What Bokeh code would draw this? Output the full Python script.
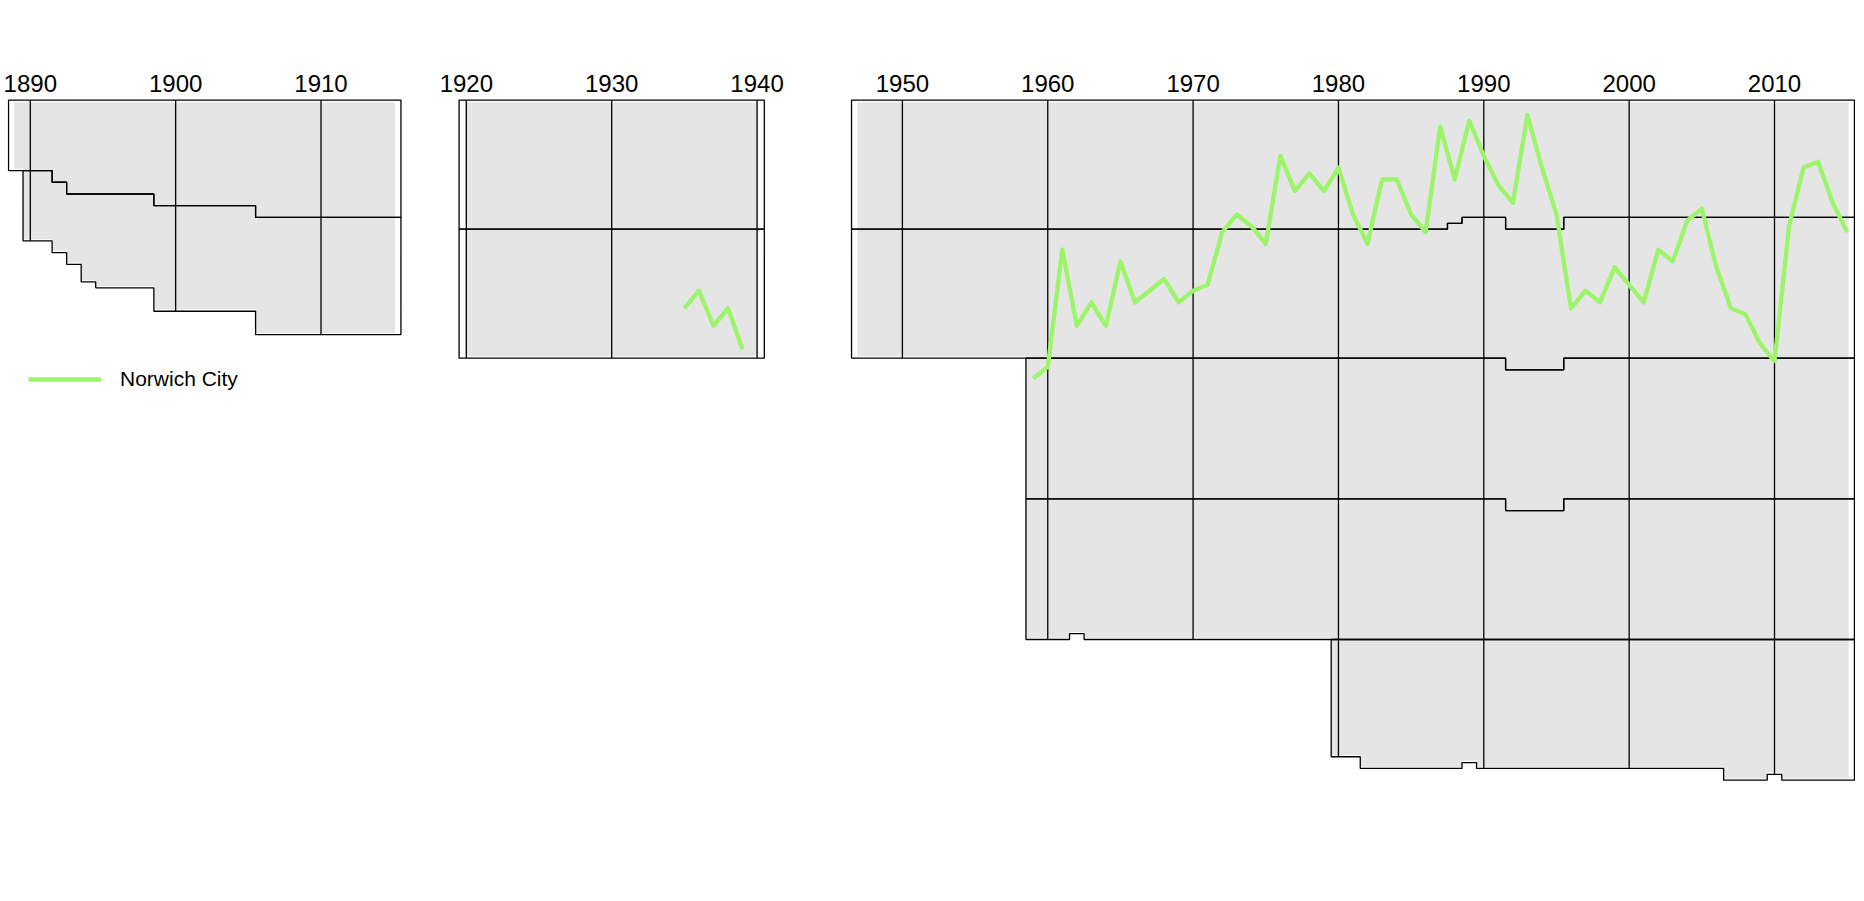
from bokeh.plotting import figure
from bokeh.models import Range1d, FixedTicker, Legend, LegendItem
from bokeh.embed import file_html
from bokeh.resources import INLINE

# ---------------- data ----------------
# Seasons are labelled by the year in which they ended.
# Number of clubs in each tier of the English league pyramid shown.
era1_seasons = list(range(1889, 1916))
era1_tier1 = [12, 12, 12, 14, 16, 16, 16, 16, 16, 16, 18, 18, 18, 18, 18, 18, 18,
              20, 20, 20, 20, 20, 20, 20, 20, 20, 20]
era1_tier2 = [0, 12, 12, 12, 12, 15, 16, 16, 16, 16, 18, 18, 18, 18, 18, 18, 18,
              20, 20, 20, 20, 20, 20, 20, 20, 20, 20]

era2_seasons = list(range(1920, 1941))
era2_tier1 = [22] * 21
era2_tier2 = [22] * 21

era3_seasons = list(range(1947, 2016))
era3_tier1 = [22] * 41 + [21] + [20] * 3 + [22] * 4 + [20] * 20
era3_tier2 = [22] * 41 + [23] + [24] * 3 + [24] * 4 + [24] * 20
era3_tier3 = [0] * 12 + [24] * 57
era3_tier4 = [0] * 12 + [24] * 3 + [23] + [24] * 29 + [22] * 4 + [24] * 20
era3_tier5 = [0] * 33 + [20] * 2 + [22] * 7 + [21] + [22] * 17 + [24] * 3 + [23] + [24] * 5

decade_ticks = [1890, 1900, 1910, 1920, 1930, 1940, 1950, 1960, 1970, 1980, 1990, 2000, 2010]

# Norwich City: overall league position (tiers stacked)
norwich_years = [1935, 1936, 1937, 1938, 1939,
                 1959, 1960, 1961, 1962, 1963, 1964, 1965, 1966, 1967, 1968, 1969,
                 1970, 1971, 1972, 1973, 1974, 1975, 1976, 1977, 1978, 1979,
                 1980, 1981, 1982, 1983, 1984, 1985, 1986, 1987, 1988, 1989,
                 1990, 1991, 1992, 1993, 1994, 1995, 1996, 1997, 1998, 1999,
                 2000, 2001, 2002, 2003, 2004, 2005, 2006, 2007, 2008, 2009,
                 2010, 2011, 2012, 2013, 2014, 2015]
norwich_pos = [36, 33, 39, 36, 43,
               48, 46, 26, 39, 35, 39, 28, 35, 33, 31, 35,
               33, 32, 23, 20, 22, 25, 10, 16, 13, 16,
               12, 20, 25, 14, 14, 20, 23, 5, 14, 4,
               10, 15, 18, 3, 12, 20, 36, 33, 35, 29,
               32, 35, 26, 28, 21, 19, 29, 36, 37, 42,
               45, 22, 12, 11, 18, 23]

eras = [
    (era1_seasons, [era1_tier1, era1_tier2]),
    (era2_seasons, [era2_tier1, era2_tier2]),
    (era3_seasons, [era3_tier1, era3_tier2, era3_tier3, era3_tier4, era3_tier5]),
]

# ---------------- figure ----------------
PX_PER_YEAR = 14.535
PX_PER_POS = 5.862
LEFT_BORDER = 7
FRAME_W = 1848
W, H = FRAME_W + LEFT_BORDER, 808
TOP_BORDER = 95
frame_h = H - TOP_BORDER
x0 = 1888.5 - 1.0 / PX_PER_YEAR
x1 = x0 + FRAME_W / PX_PER_YEAR
y_top = 0.5 - 4.7 / PX_PER_POS
y_bot = y_top + frame_h / PX_PER_POS

p = figure(width=W, height=H, output_backend="svg", toolbar_location=None,
           x_range=Range1d(x0, x1), y_range=Range1d(y_bot, y_top),
           x_axis_location="above", y_axis_location=None,
           min_border_left=LEFT_BORDER, min_border_right=0, min_border_bottom=0,
           min_border_top=TOP_BORDER)
p.outline_line_color = None
p.grid.visible = False
p.background_fill_color = "white"

ax = p.xaxis[0]
ax.ticker = FixedTicker(ticks=decade_ticks)
ax.axis_line_color = None
ax.major_tick_line_color = None
ax.minor_tick_line_color = None
ax.major_tick_in = 0
ax.major_tick_out = 0
ax.major_label_standoff = 4
ax.major_label_text_font = "Liberation Sans"
ax.major_label_text_font_size = "24px"
ax.major_label_text_color = "black"


def step_edge(seasons, vals, pad):
    xs, ys = [], []
    n = len(seasons)
    for i, (s, v) in enumerate(zip(seasons, vals)):
        left = s - 0.5 if i > 0 else s - pad
        right = s + 0.5 if i < n - 1 else s + pad
        xs += [left, right]
        ys += [v, v]
    return xs, ys


fill_xs, fill_ys = [], []
out_xs, out_ys = [], []
grid_x, grid_y0, grid_y1 = [], [], []

for seasons, tiers in eras:
    totals = [sum(t[i] for t in tiers) for i in range(len(seasons))]
    # gray mass of all clubs' trajectories
    tx, ty = step_edge(seasons, [0.85] * len(seasons), 0.1)
    bx, by = step_edge(seasons, [v + 0.2 for v in totals], 0.1)
    fill_xs.append(tx + bx[::-1])
    fill_ys.append(ty + by[::-1])
    # tier outlines
    for k, tier in enumerate(tiers):
        idx = [i for i in range(len(seasons)) if tier[i] > 0]
        ss = [seasons[i] for i in idx]
        tops = [sum(tiers[j][i] for j in range(k)) + 0.5 for i in idx]
        bots = [sum(tiers[j][i] for j in range(k + 1)) + 0.5 for i in idx]
        tx, ty = step_edge(ss, tops, 0.5)
        bx, by = step_edge(ss, bots, 0.5)
        out_xs.append(tx + bx[::-1])
        out_ys.append(ty + by[::-1])
    # decade lines inside the regions
    for d in decade_ticks:
        if d in seasons:
            grid_x.append(d)
            grid_y0.append(0.5)
            grid_y1.append(totals[seasons.index(d)] + 0.5)

p.patches(fill_xs, fill_ys, fill_color="#E5E5E5", line_color=None)
p.segment(x0=grid_x, y0=grid_y0, x1=grid_x, y1=grid_y1, line_color="black", line_width=1.3)
p.patches(out_xs, out_ys, fill_color=None, line_color="black", line_width=1.3)

# Norwich line with gap
nx, ny = [], []
prev = None
for yr, pos in zip(norwich_years, norwich_pos):
    if prev is not None and yr - prev > 1:
        nx.append(float("nan"))
        ny.append(float("nan"))
    nx.append(yr)
    ny.append(pos)
    prev = yr
r = p.line(nx, ny, line_color="#9CF46A", line_width=4.3, line_join="round")

legend = Legend(items=[LegendItem(label="Norwich City", renderers=[r])],
                location=(21, 416), glyph_width=73, glyph_height=26,
                label_standoff=19, padding=0, spacing=0, margin=0,
                border_line_color=None, background_fill_alpha=0,
                label_text_font="Liberation Sans", label_text_font_size="21px",
                label_text_color="black")
p.add_layout(legend)

open("out.html", "w").write(file_html(p, INLINE))
